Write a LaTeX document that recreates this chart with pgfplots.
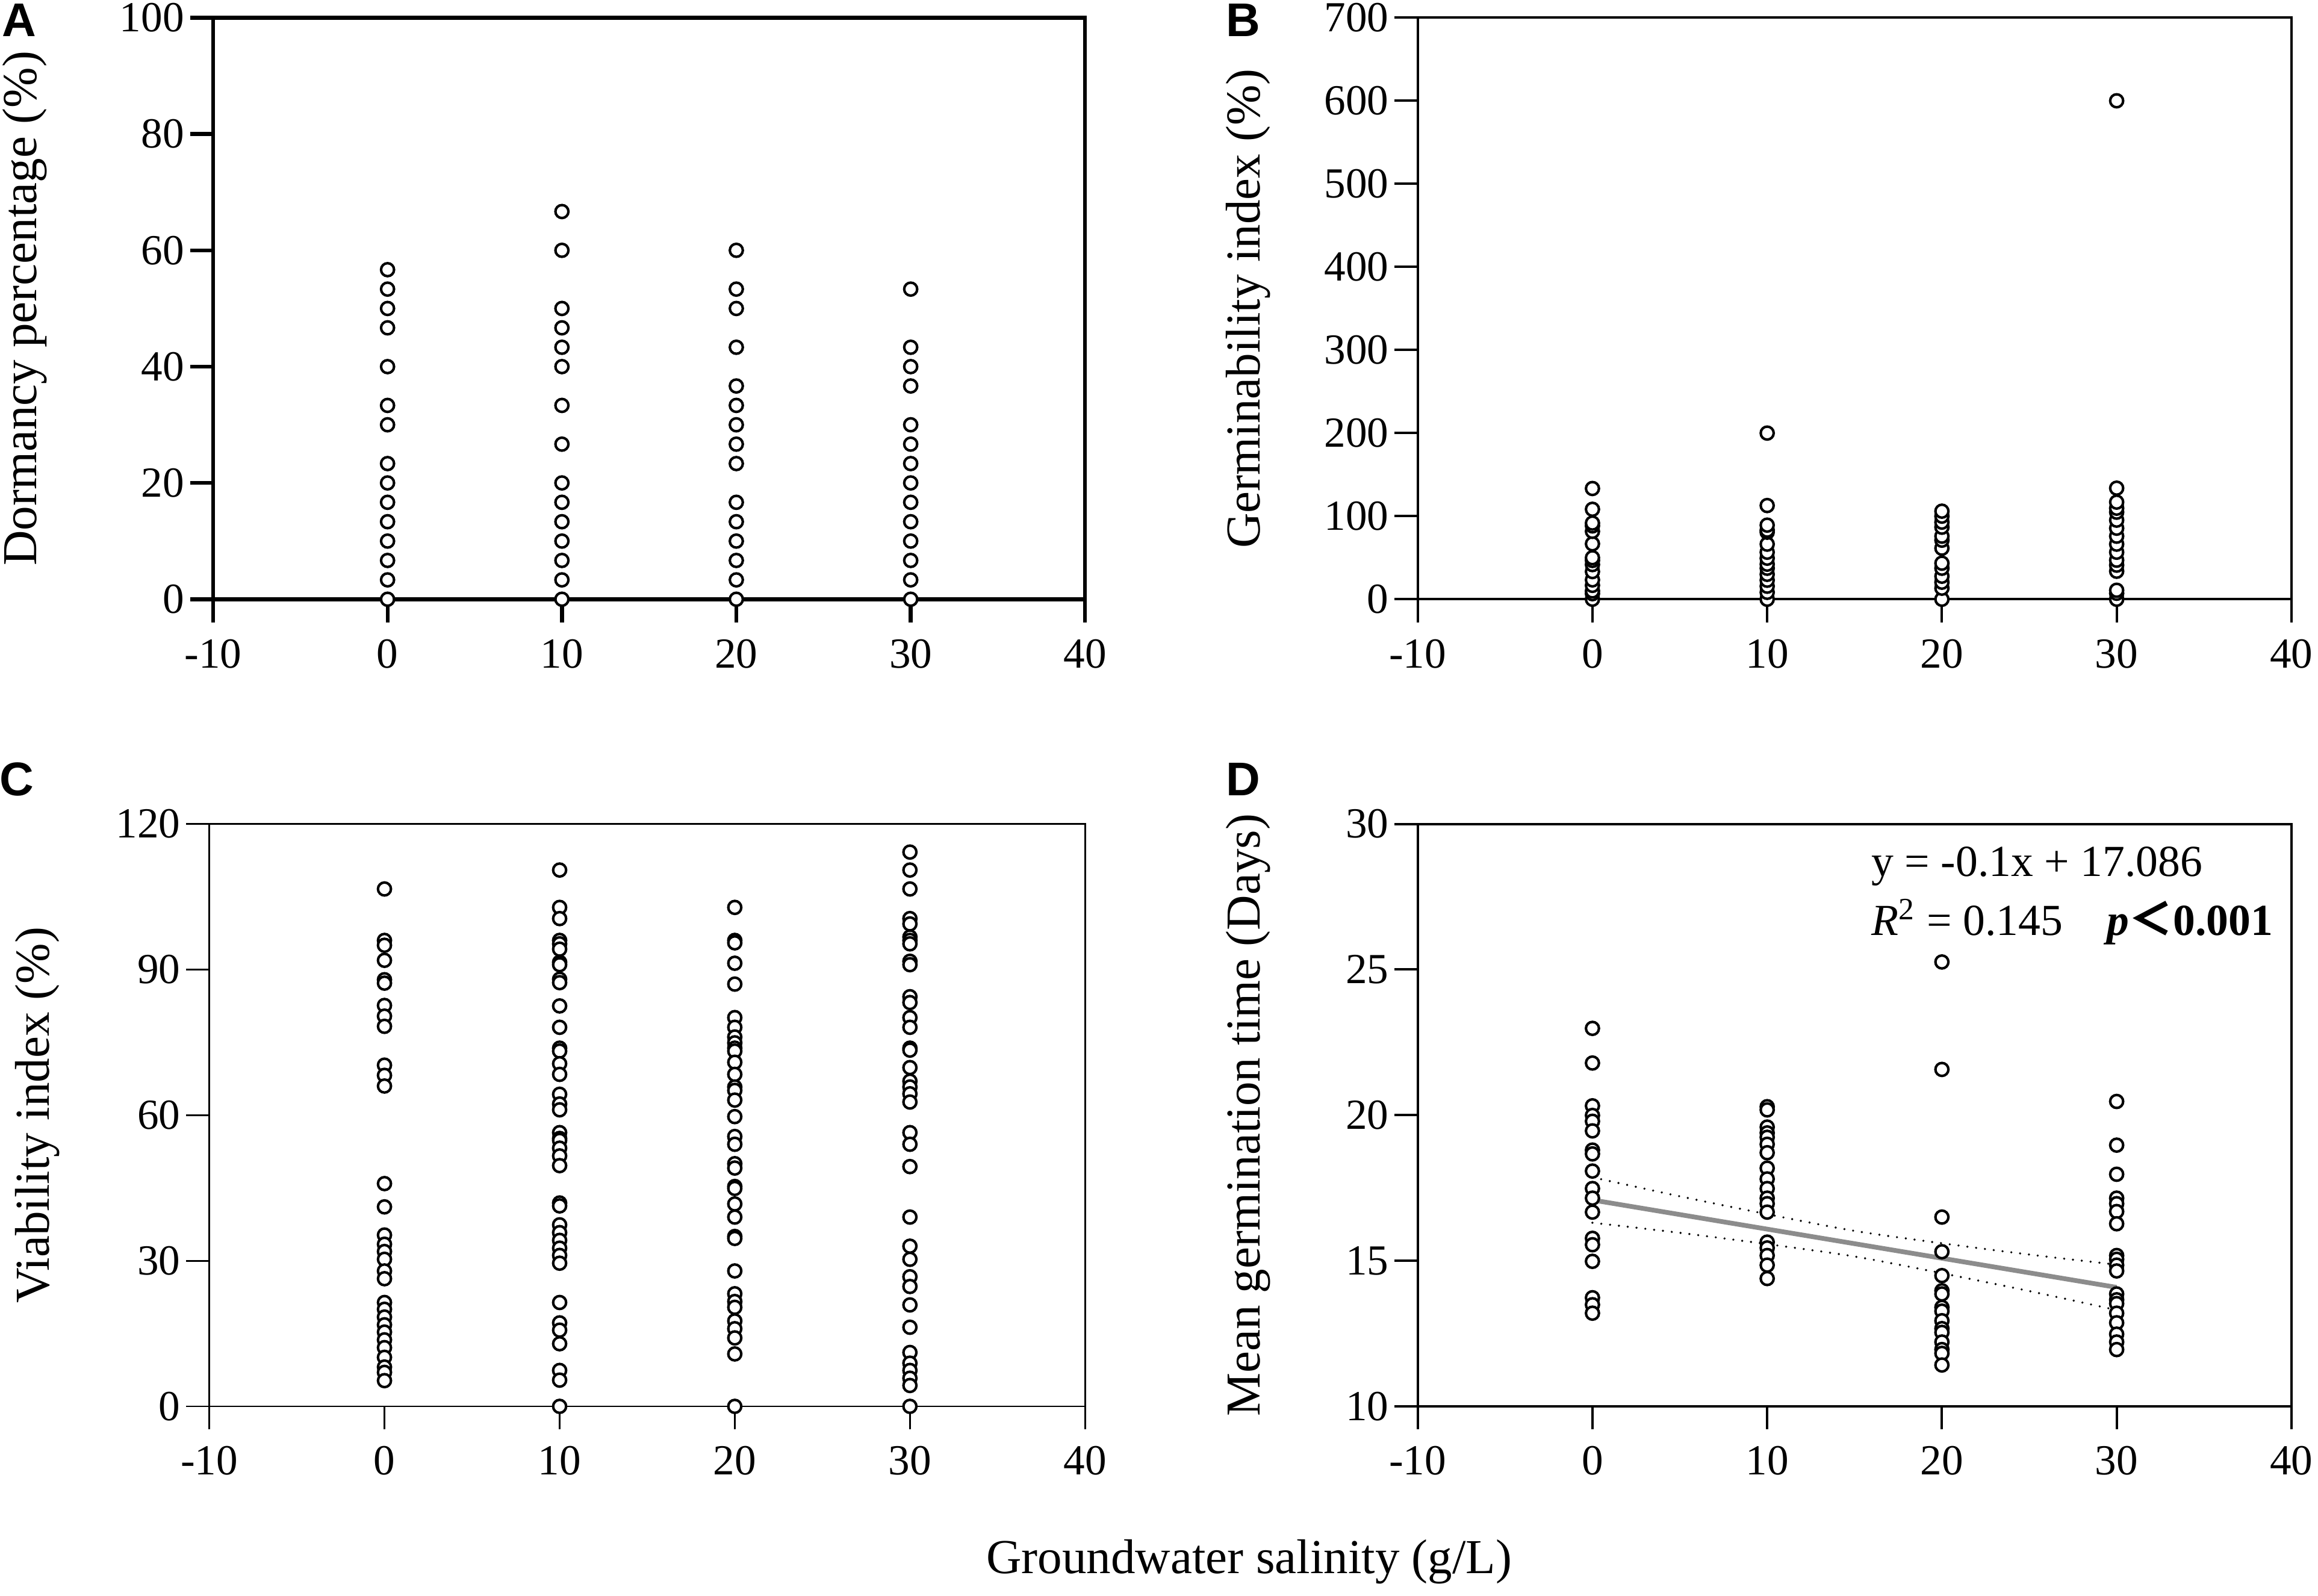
\documentclass[border=0pt]{standalone}
\usepackage{fontspec}
\setmainfont{Liberation Serif}
\newfontfamily\panelfont{Liberation Sans}
\newfontfamily\cjk{Noto Sans CJK SC}
\usepackage{pgfplots}
\pgfplotsset{compat=1.18}
\definecolor{regline}{RGB}{140,140,140}
\pgfplotsset{
  panel/.style={
    scale only axis, anchor=south west,
    xmin=-10, xmax=40,
    xtick={-10,0,10,20,30,40},
    xticklabels={-10,0,10,20,30,40},
    tick align=outside,
    xtick pos=left, ytick pos=left,
    major tick length=7.8pt,
    minor tick num=0,
    axis line style={line width=#1, black},
    tick style={line width=#1, black},
    tick label style={font=\fontsize{14.5}{17}\selectfont, text=black},
    xticklabel style={yshift=-2.2pt},
    yticklabel style={xshift=1.5pt},
    ylabel style={font=\fontsize{16.5}{20}\selectfont, anchor=center},
    /pgf/number format/assume math mode=true,
    scaled y ticks=false,
    clip=false,
  },
  dots/.style={only marks, mark=*, mark size=2.2pt,
    mark options={draw=black, fill=white, line width=0.85pt}},
}
\begin{document}
\begin{tikzpicture}
\path[use as bounding box] (0,0) rectangle (784pt,539.7pt);

% ---------------- Panel A ----------------
\begin{axis}[panel=1.3pt, at={(72.1pt,337pt)}, width=294.9pt, height=196.7pt,
  ymin=0, ymax=100, ytick={0,20,40,60,80,100},
  ylabel={Dormancy percentage (\%)},
  ylabel style={at={(rel axis cs:-0.216,0.5)}}]
\addplot[dots] coordinates {(0,0) (0,3.33) (0,6.67) (0,10) (0,13.33) (0,16.67) (0,20) (0,23.33) (0,30) (0,33.33) (0,40) (0,46.67) (0,50) (0,53.33) (0,56.67)};
\addplot[dots] coordinates {(10,0) (10,3.33) (10,6.67) (10,10) (10,13.33) (10,16.67) (10,20) (10,26.67) (10,33.33) (10,40) (10,43.33) (10,46.67) (10,50) (10,60) (10,66.67)};
\addplot[dots] coordinates {(20,0) (20,3.33) (20,6.67) (20,10) (20,13.33) (20,16.67) (20,23.33) (20,26.67) (20,30) (20,33.33) (20,36.67) (20,43.33) (20,50) (20,53.33) (20,60)};
\addplot[dots] coordinates {(30,0) (30,3.33) (30,6.67) (30,10) (30,13.33) (30,16.67) (30,20) (30,23.33) (30,26.67) (30,30) (30,36.67) (30,40) (30,43.33) (30,53.33)};
\end{axis}

% ---------------- Panel B ----------------
\begin{axis}[panel=0.8pt, at={(479.5pt,337pt)}, width=295.5pt, height=196.7pt,
  ymin=0, ymax=700, ytick={0,100,200,300,400,500,600,700},
  ylabel={Germinability index (\%)},
  ylabel style={at={(rel axis cs:-0.194,0.5)}}]
\addplot[dots] coordinates {(0,0) (0,6.7) (0,10) (0,16.7) (0,23.3) (0,33.3) (0,41.7) (0,46.7) (0,50) (0,66.7) (0,81.7) (0,88.3) (0,91.7) (0,108.3) (0,133.3)};
\addplot[dots] coordinates {(10,0) (10,8.3) (10,15.7) (10,22.9) (10,30) (10,37.3) (10,42.2) (10,49.4) (10,56.6) (10,66.3) (10,80.7) (10,83.1) (10,89.2) (10,112.8) (10,200)};
\addplot[dots] coordinates {(20,0) (20,13.3) (20,20.5) (20,27.7) (20,37.3) (20,43.4) (20,61.4) (20,71.1) (20,75.9) (20,86.7) (20,92.8) (20,100) (20,106)};
\addplot[dots] coordinates {(30,0) (30,7.2) (30,10.8) (30,33.7) (30,41) (30,47) (30,56.6) (30,66.3) (30,75.9) (30,85.5) (30,95.2) (30,104.8) (30,109.6) (30,116.9) (30,133.7) (30,600)};
\end{axis}

% ---------------- Panel C ----------------
\begin{axis}[panel=0.6pt, at={(70.8pt,64pt)}, width=296.2pt, height=197pt,
  ymin=0, ymax=120, ytick={0,30,60,90,120},
  ylabel={Viability index (\%)},
  ylabel style={at={(rel axis cs:-0.196,0.5)}}]
\addplot[dots] coordinates {(0,106.6) (0,96.0) (0,95.0) (0,91.9) (0,87.9) (0,87.2) (0,82.6) (0,80.4) (0,78.3) (0,70.3) (0,68.2) (0,66.0) (0,45.9) (0,41.1) (0,35.3) (0,33.4) (0,31.9) (0,30.3) (0,27.9) (0,26.3) (0,21.4) (0,20.0) (0,18.4) (0,16.8) (0,15.3) (0,13.7) (0,12.1) (0,10.1) (0,8.1) (0,7.0) (0,5.3)};
\addplot[dots] coordinates {(10,110.5) (10,102.8) (10,100.5) (10,96.0) (10,95.3) (10,94.2) (10,91.5) (10,91.0) (10,88.0) (10,87.3) (10,82.5) (10,78.1) (10,73.8) (10,73.2) (10,70.6) (10,68.4) (10,64.3) (10,62.3) (10,61.1) (10,56.4) (10,55.2) (10,54.8) (10,53.2) (10,51.6) (10,49.6) (10,41.9) (10,41.3) (10,37.4) (10,35.8) (10,34.2) (10,32.6) (10,31.1) (10,29.5) (10,21.4) (10,17.2) (10,15.7) (10,12.9) (10,7.4) (10,5.4) (10,0)};
\addplot[dots] coordinates {(20,102.8) (20,96.0) (20,95.5) (20,91.3) (20,87.0) (20,80.1) (20,78.1) (20,76.1) (20,74.9) (20,73.8) (20,73.2) (20,70.9) (20,68.4) (20,65.8) (20,65.1) (20,63.1) (20,59.7) (20,55.6) (20,54.0) (20,50.0) (20,49.1) (20,45.3) (20,44.9) (20,41.7) (20,39.0) (20,35.0) (20,34.6) (20,27.9) (20,23.2) (20,21.6) (20,20.4) (20,17.6) (20,16.0) (20,14.1) (20,10.8) (20,0)};
\addplot[dots] coordinates {(30,114.2) (30,110.5) (30,106.6) (30,100.5) (30,99.4) (30,96.7) (30,96.0) (30,95.3) (30,91.7) (30,91.0) (30,84.4) (30,83.2) (30,80.1) (30,78.1) (30,73.8) (30,73.4) (30,69.8) (30,67.0) (30,65.8) (30,64.4) (30,62.7) (30,56.4) (30,54.0) (30,49.4) (30,39.0) (30,33.0) (30,30.3) (30,26.7) (30,24.7) (30,20.9) (30,16.3) (30,11.1) (30,8.9) (30,7.4) (30,5.8) (30,4.3) (30,0)};
\end{axis}

% ---------------- Panel D ----------------
\begin{axis}[panel=0.8pt, at={(479.5pt,64pt)}, width=295.5pt, height=197pt,
  ymin=10, ymax=30, ytick={10,15,20,25,30},
  ylabel={Mean germination time (Days)},
  ylabel style={at={(rel axis cs:-0.194,0.5)}}]
\addplot[dots] coordinates {(0,22.98) (0,21.79) (0,20.32) (0,19.99) (0,19.79) (0,19.46) (0,18.80) (0,18.67) (0,18.08) (0,17.48) (0,17.15) (0,16.67) (0,15.77) (0,15.55) (0,14.98) (0,13.73) (0,13.49) (0,13.20)};
\addplot[dots] coordinates {(10,20.29) (10,20.18) (10,19.59) (10,19.39) (10,19.24) (10,19.00) (10,18.71) (10,18.18) (10,17.81) (10,17.48) (10,17.15) (10,16.96) (10,16.67) (10,15.64) (10,15.44) (10,15.18) (10,14.85) (10,14.39)};
\addplot[dots] coordinates {(20,25.26) (20,21.57) (20,16.50) (20,15.31) (20,14.49) (20,13.97) (20,13.86) (20,13.40) (20,13.27) (20,12.94) (20,12.67) (20,12.54) (20,12.21) (20,11.95) (20,11.82) (20,11.42)};
\addplot[dots] coordinates {(30,20.47) (30,18.97) (30,17.97) (30,17.15) (30,16.96) (30,16.69) (30,16.27) (30,15.18) (30,15.05) (30,14.85) (30,14.65) (30,13.86) (30,13.66) (30,13.53) (30,13.20) (30,12.87) (30,12.48) (30,12.21) (30,11.95)};
% regression line and confidence band
\addplot[regline, line width=1.6pt, no marks] coordinates {(0,17.086) (30,14.086)};
\addplot[black, line width=0.8pt, line cap=round, dash pattern=on 0pt off 3pt, no marks, smooth]
  coordinates {(0,17.866) (5,17.213) (10,16.600) (15,16.026) (20,15.600) (25,15.213) (30,14.866)};
\addplot[black, line width=0.8pt, line cap=round, dash pattern=on 0pt off 3pt, no marks, smooth]
  coordinates {(0,16.306) (5,15.959) (10,15.572) (15,15.146) (20,14.572) (25,13.959) (30,13.306)};
\node[anchor=base west, font=\fontsize{15}{18}\selectfont, inner sep=0pt] at (rel axis cs:0.519,0.910) {y = -0.1x + 17.086};
\node[anchor=base west, font=\fontsize{15}{18}\selectfont, inner sep=0pt] at (rel axis cs:0.519,0.809) {\textit{R}\textsuperscript{2} = 0.145};
\node[anchor=base west, font=\fontsize{15}{18}\selectfont, inner sep=0pt] at (rel axis cs:0.788,0.809) {\textbf{\textit{p}{\cjk ＜}0.001}};
\end{axis}

% panel letters and common x label
\node[font=\panelfont\bfseries\fontsize{16}{19}\selectfont] at (6.5pt,532.9pt) {A};
\node[font=\panelfont\bfseries\fontsize{16}{19}\selectfont] at (420.5pt,532.9pt) {B};
\node[font=\panelfont\bfseries\fontsize{16}{19}\selectfont] at (5.75pt,276pt) {C};
\node[font=\panelfont\bfseries\fontsize{16}{19}\selectfont] at (420.5pt,276pt) {D};
\node[font=\fontsize{16.5}{20}\selectfont] at (422.5pt,11.5pt) {Groundwater salinity (g/L)};
\end{tikzpicture}
\end{document}
